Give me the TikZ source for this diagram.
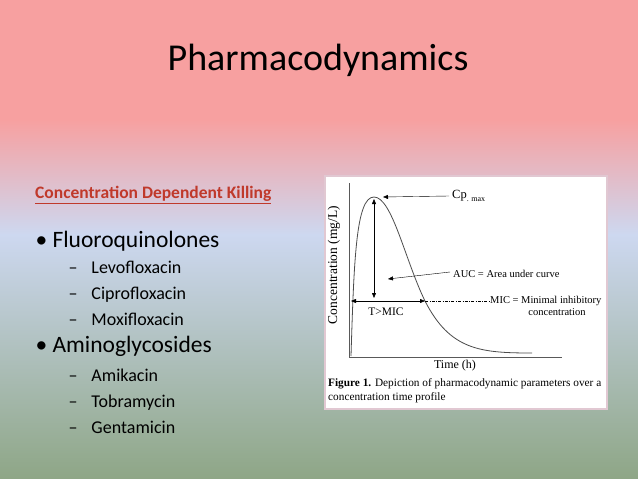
\documentclass[tikz,border=0pt]{standalone}
\usepackage{fontspec}
\setmainfont{Carlito}
\newfontfamily\tnr{Liberation Serif}
\usetikzlibrary{arrows.meta}
\definecolor{ttl}{HTML}{C0392B}
\definecolor{pk1}{RGB}{247,160,160}
\definecolor{bl1}{RGB}{205,216,240}
\definecolor{gr1}{RGB}{142,166,134}
\begin{document}
\begin{tikzpicture}[x=1pt,y=-1pt,
  sub/.style={anchor=west,font=\fontsize{18}{21}\selectfont,text height=1.6ex,text depth=.4ex},
  bul/.style={anchor=west,font=\fontsize{23.5}{26}\selectfont,text height=1.6ex,text depth=.4ex},
  fig/.style={font=\tnr\fontsize{10.5}{11.5}\selectfont,inner sep=0},
  ar/.style={-{Triangle[length=5pt,width=4pt]},thin}]
\useasboundingbox (0,0) rectangle (638,479);
\fill[pk1] (0,0) rectangle (638,120);
\shade[top color=pk1,bottom color=bl1] (0,119.5) rectangle (638,235);
\shade[top color=bl1,bottom color=gr1] (0,234.5) rectangle (638,479);
\node (title) at (318,60) {\fontsize{38}{42}\selectfont Pharmacodynamics};
\node[anchor=west,inner sep=0,text=ttl] (cdk) at (35,195) {\fontsize{17.5}{20}\selectfont\bfseries\underline{Concentration Dependent Killing}};
\node[bul] (f) at (32,245) {•\ Fluoroquinolones};
\node[sub] (f1) at (65,271) {–\hspace{14pt}Levofloxacin};
\node[sub] (f2) at (65,297) {–\hspace{14pt}Ciprofloxacin};
\node[sub] (f3) at (65,323) {–\hspace{14pt}Moxifloxacin};
\node[bul] (a) at (32,350) {•\ Aminoglycosides};
\node[sub] (a1) at (65,379) {–\hspace{14pt}Amikacin};
\node[sub] (a2) at (65,405) {–\hspace{14pt}Tobramycin};
\node[sub] (a3) at (65,431) {–\hspace{14pt}Gentamicin};
% figure
\draw[fill=white,draw={rgb,255:red,225;green,200;blue,210},line width=1.2pt] (325,176) rectangle (607,409);
\draw[gray!70!black,line width=0.7pt] (349,183) -- (349,357) -- (562,357);
\coordinate (o) at (351,356);
\coordinate (pk) at (374,197);
\coordinate (mi) at (425,301);
\coordinate (tl) at (532,353);
\draw[gray!60!black,line width=0.8pt] (o) .. controls (354,260) and (356,197) .. (pk) .. controls (392,197) and (405,260) .. (mi) .. controls (450,350) and (480,353) .. (tl);
\node[fig,anchor=west] (cp) at (452,196) {\fontsize{12.5}{13}\selectfont Cp\raisebox{-0.5ex}{\fontsize{8}{9}\selectfont. max}};
\draw[ar] (cp.west) ++(-3,0) coordinate (c1) -- (383,197);
\node[fig,anchor=west] (auc) at (453,274) {AUC = Area under curve};
\draw[ar] (auc.west) ++(-3,-2) coordinate (c2) -- (388,279);
\node[fig,anchor=west] (mic) at (490,301) {MIC = Minimal inhibitory};
\node[fig] (conc) at (557,312) {concentration};
\draw[dash pattern=on 3pt off 1.5pt on 0.6pt off 1.5pt,thin] (mi) -- (mic.west);
\draw[{Triangle[length=5pt,width=4pt]}-{Triangle[length=5pt,width=4pt]},thin] (374,199) -- (374,298);
\draw[{Triangle[length=5pt,width=4pt]}-{Triangle[length=5pt,width=4pt]},thin] (351,301) -- (mi);
\node[fig,font=\tnr\fontsize{11.5}{12}\selectfont] (tmic) at (386,312) {T{>}MIC};
\node[fig,font=\tnr\fontsize{12}{13}\selectfont] (time) at (455,366) {Time (h)};
\node[fig,rotate=90,font=\tnr\fontsize{13.5}{14}\selectfont] (yl) at (334,265) {Concentration (mg/L)};
\node[fig,anchor=west,align=left,font=\tnr\fontsize{11.3}{14}\selectfont] (cap) at (328,391) {\textbf{Figure 1.} Depiction of pharmacodynamic parameters over a\\concentration time profile};
\end{tikzpicture}
\end{document}
